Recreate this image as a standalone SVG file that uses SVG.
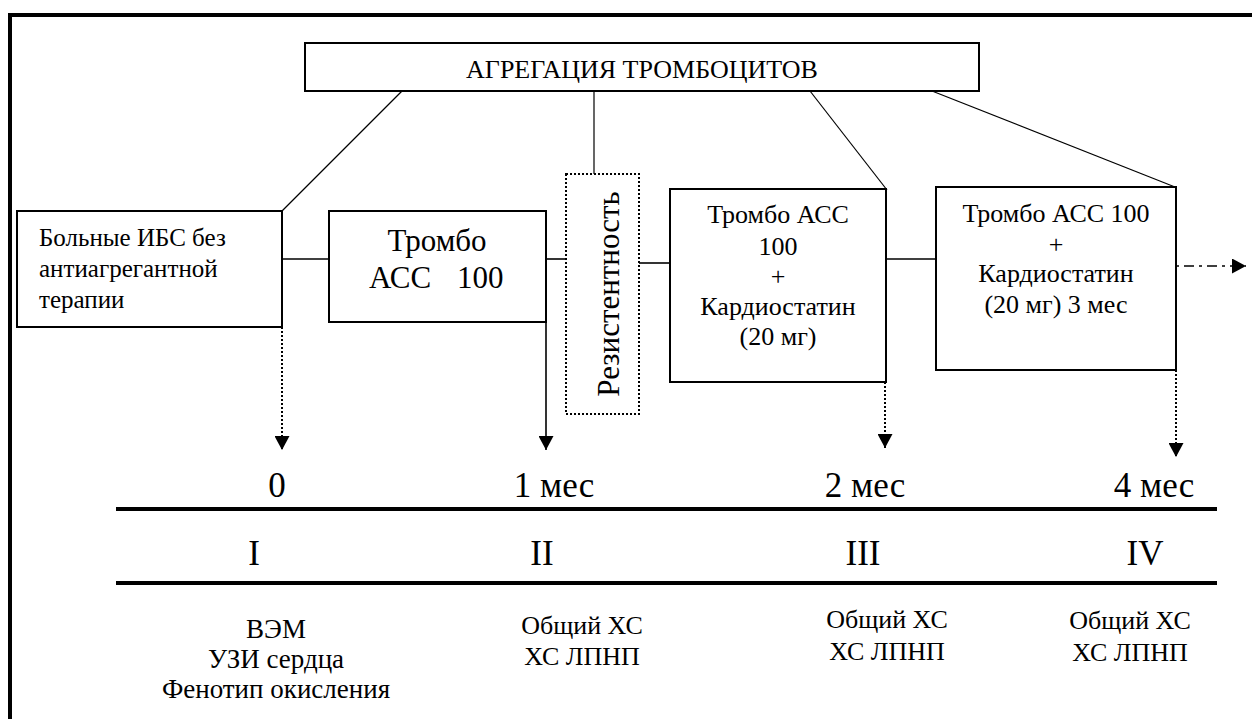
<svg xmlns="http://www.w3.org/2000/svg" width="1252" height="719" viewBox="0 0 1252 719">
<style>
text{font-family:"Liberation Serif","Times New Roman",serif;fill:#000}
.box{fill:#fff;stroke:#000;stroke-width:2}
.ln{stroke:#000;stroke-width:1.2;fill:none}
.hl{stroke:#000;stroke-width:1.6;fill:none}
.dot{stroke:#000;stroke-width:2;stroke-dasharray:2,2;fill:none}
.tl{stroke:#000;stroke-width:4}
.c{text-anchor:middle}
</style>
<defs>
<marker id="ah" viewBox="0 0 14 15" refX="14" refY="7.5" markerWidth="14" markerHeight="15" markerUnits="userSpaceOnUse" orient="auto">
<path d="M0,0 L14,7.5 L0,15 Z" fill="#000"/>
</marker>
</defs>
<rect width="1252" height="719" fill="#fff"/>
<rect x="10" y="15" width="1262" height="730" fill="none" stroke="#000" stroke-width="4"/>

<g id="connectors">
<line class="ln" x1="402" y1="91" x2="282" y2="211"/>
<line class="ln" x1="594" y1="91" x2="594" y2="174"/>
<line class="ln" x1="810" y1="91" x2="887" y2="190"/>
<line class="ln" x1="932" y1="91" x2="1175" y2="187"/>
<line class="hl" x1="282" y1="259" x2="329" y2="259"/>
<line class="hl" x1="542" y1="259" x2="566" y2="259"/>
<line class="hl" x1="639" y1="263" x2="670" y2="263"/>
<line class="hl" x1="886" y1="259" x2="936" y2="259"/>
<line class="dot" x1="282" y1="327" x2="282" y2="450" marker-end="url(#ah)"/>
<line class="hl" x1="546" y1="282" x2="546" y2="450" marker-end="url(#ah)"/>
<line class="dot" x1="885" y1="382" x2="885" y2="448" marker-end="url(#ah)"/>
<line class="dot" x1="1176" y1="370" x2="1176" y2="457" marker-end="url(#ah)"/>
<line stroke="#000" stroke-width="1.6" stroke-dasharray="3,5,10,5" x1="1176" y1="266" x2="1246" y2="266" marker-end="url(#ah)"/>
</g>

<g id="top">
<rect class="box" x="305" y="43" width="674" height="48"/>
<text class="c" x="642" y="78" font-size="26">АГРЕГАЦИЯ ТРОМБОЦИТОВ</text>
</g>

<g id="patients">
<rect class="box" x="17" y="211" width="265" height="116"/>
<text x="39" y="246" font-size="25">Больные ИБС без</text>
<text x="39" y="277" font-size="25">антиагрегантной</text>
<text x="39" y="308" font-size="25">терапии</text>
</g>

<g id="thrombo">
<rect class="box" x="329" y="211" width="217" height="111"/>
<text class="c" x="437" y="251" font-size="31">Тромбо</text>
<text font-size="31" y="288"><tspan x="369">АСС</tspan><tspan x="457">100</tspan></text>
</g>

<g id="resistance">
<rect x="566" y="174" width="73" height="240" fill="#fff" stroke="#000" stroke-width="2" stroke-dasharray="2,2"/>
<text class="c" font-size="31" transform="translate(619,294) rotate(-90)">Резистентность</text>
</g>

<g id="combo1">
<rect class="box" x="670" y="189" width="216" height="193"/>
<text class="c" x="778" y="223" font-size="26">Тромбо АСС</text>
<text class="c" x="778" y="255" font-size="26">100</text>
<text class="c" x="778" y="285" font-size="26">+</text>
<text class="c" x="778" y="315" font-size="26">Кардиостатин</text>
<text class="c" x="778" y="345" font-size="26">(20 мг)</text>
</g>

<g id="combo2">
<rect class="box" x="936" y="187" width="240" height="183"/>
<text class="c" x="1056" y="222" font-size="26">Тромбо АСС 100</text>
<text class="c" x="1056" y="253" font-size="26">+</text>
<text class="c" x="1056" y="282" font-size="26">Кардиостатин</text>
<text class="c" x="1056" y="313" font-size="26">(20 мг) 3 мес</text>
</g>

<g id="timeline">
<line class="tl" x1="116" y1="509" x2="1217" y2="509"/>
<line class="tl" x1="116" y1="583" x2="1217" y2="583"/>
<text class="c" x="277" y="497" font-size="35">0</text>
<text class="c" x="554" y="497" font-size="35">1 мес</text>
<text class="c" x="865" y="497" font-size="35">2 мес</text>
<text class="c" x="1154" y="497" font-size="35">4 мес</text>
<text class="c" x="254" y="565" font-size="35">I</text>
<text class="c" x="542" y="565" font-size="35">II</text>
<text class="c" x="863" y="565" font-size="35">III</text>
<text class="c" x="1145" y="565" font-size="35">IV</text>
</g>

<g id="stage1">
<text class="c" x="276" y="638" font-size="27">ВЭМ</text>
<text class="c" x="276" y="668" font-size="27">УЗИ сердца</text>
<text class="c" x="276" y="698" font-size="27">Фенотип окисления</text>
</g>
<g id="stage2">
<text class="c" x="582" y="634" font-size="26">Общий ХС</text>
<text class="c" x="582" y="665" font-size="26">ХС ЛПНП</text>
</g>
<g id="stage3">
<text class="c" x="887" y="628" font-size="26">Общий ХС</text>
<text class="c" x="887" y="660" font-size="26">ХС ЛПНП</text>
</g>
<g id="stage4">
<text class="c" x="1130" y="629" font-size="26">Общий ХС</text>
<text class="c" x="1130" y="661" font-size="26">ХС ЛПНП</text>
</g>
</svg>
